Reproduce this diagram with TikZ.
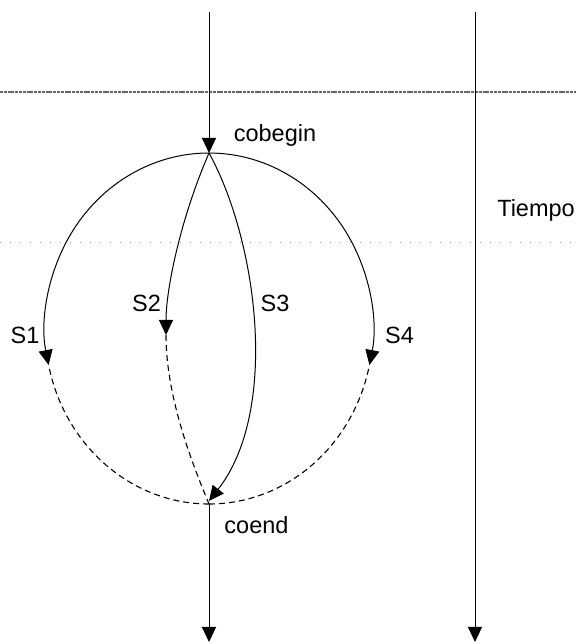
\documentclass[tikz,border=0pt]{standalone}
\usepackage{fontspec}
\setmainfont{Liberation Sans}
\usetikzlibrary{arrows.meta,calc}
\begin{document}
\begin{tikzpicture}[x=1pt,y=1pt,
  lbl/.style={inner sep=0pt, font=\fontsize{23.5}{26}\selectfont},
  flow/.style={line width=1pt, -{Triangle[width=14pt,length=15pt]}},
  wait/.style={line width=1.1pt, dash pattern=on 6pt off 4pt},
  lineA/.style={black!60, line width=1.1pt, dash pattern=on 3pt off 0.8pt},
  lineB/.style={gray!80, line width=0.9pt, dash pattern=on 1pt off 9pt}]
\useasboundingbox (0,0) rectangle (576,644);
% guide lines
\coordinate (hA1) at (0,552);   \coordinate (hA2) at (576,552);
\coordinate (hB1) at (0,402);   \coordinate (hB2) at (576,402);
\draw[lineA] (hA1) -- (hA2);
\draw[lineB] (hB1) -- (hB2);
% main points
\coordinate (start) at (209,632);
\coordinate (top) at (209,491);
\coordinate (bot) at (209,140);
\coordinate (end) at (209,2);
\coordinate (tstart) at (475,632);
\coordinate (tend) at (475,2);
\coordinate (s2) at (166,309);
% time axis
\draw[flow] (tstart) -- (tend);
% main thread
\draw[flow] (start) -- (top);
\draw[flow] (bot) -- (end);
% branches
\draw[flow] (top) arc[start angle=90, end angle=192, x radius=164, y radius=175.5];
\draw[flow] (top) arc[start angle=90, end angle=-12, x radius=164, y radius=175.5];
\draw[wait] (bot) arc[start angle=270, end angle=192, x radius=164, y radius=175.5];
\draw[wait] (bot) arc[start angle=-90, end angle=-12, x radius=164, y radius=175.5];
\draw[flow] (top) .. controls (180,424) and (166,354) .. (s2);
\draw[wait] (s2) .. controls (166,244) and (195,174) .. (bot);
\draw[flow] (top) .. controls (257,404) and (280,234) .. ([yshift=3pt]bot);
% labels
\node[lbl] (lcob) at (275,509) {cobegin};
\node[lbl] (ltie) at (536,434) {Tiempo};
\node[lbl] (l1) at (25,309) {S1};
\node[lbl] (l2) at (146.5,341) {S2};
\node[lbl] (l3) at (275,341) {S3};
\node[lbl] (l4) at (399.5,309) {S4};
\node[lbl] (lcoe) at (256.5,119) {coend};
\end{tikzpicture}
\end{document}
